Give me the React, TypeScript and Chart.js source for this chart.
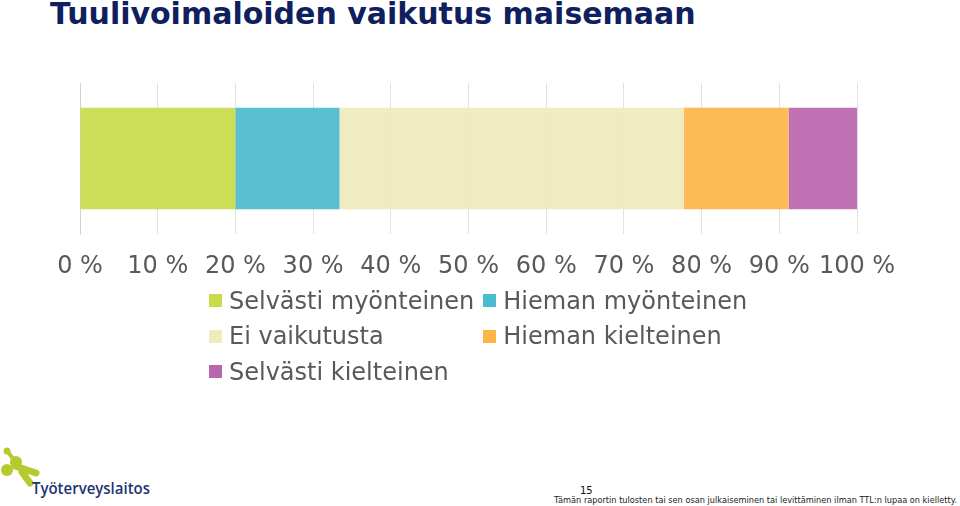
import React, { useEffect, useRef } from "react";
import { Chart, registerables } from "chart.js";

Chart.register(...registerables);

const TITLE = "Tuulivoimaloiden vaikutus maisemaan";
const CATEGORIES = [""];
const SERIES_LABELS = [
  "Selvästi myönteinen",
  "Hieman myönteinen",
  "Ei vaikutusta",
  "Hieman kielteinen",
  "Selvästi kielteinen",
];
const SERIES_VALUES = [20.0, 13.4, 44.3, 13.5, 8.8];
const SERIES_COLORS = ["#c8db4a", "#4bbbce", "#f0ebba", "#fdb54a", "#b967ad"];
const TICK_STEP = 10;
const FOOTER_PAGE = "15";
const FOOTER_TEXT =
  "Tämän raportin tulosten tai sen osan julkaiseminen tai levittäminen ilman TTL:n lupaa on kielletty.";
const LOGO_TEXT = "Työterveyslaitos";

function withAlpha(hex: string, a: number) {
  const r = parseInt(hex.slice(1, 3), 16);
  const g = parseInt(hex.slice(3, 5), 16);
  const b = parseInt(hex.slice(5, 7), 16);
  return `rgba(${r},${g},${b},${a})`;
}

export default function App() {
  const canvasRef = useRef<HTMLCanvasElement | null>(null);

  useEffect(() => {
    if (!canvasRef.current) return;
    const chart = new Chart(canvasRef.current, {
      type: "bar",
      data: {
        labels: CATEGORIES,
        datasets: SERIES_LABELS.map((label, i) => ({
          label,
          data: [SERIES_VALUES[i]],
          backgroundColor: withAlpha(SERIES_COLORS[i], 0.93),
          borderWidth: 0,
          barPercentage: 1,
          categoryPercentage: 0.671,
        })),
      },
      options: {
        indexAxis: "y",
        animation: false,
        responsive: false,
        maintainAspectRatio: false,
        layout: { padding: { left: 80, right: 103, top: 13, bottom: 11 } },
        plugins: {
          legend: { display: false },
          tooltip: { enabled: false },
          title: { display: false },
        },
        scales: {
          x: {
            stacked: true,
            min: 0,
            max: 100,
            ticks: {
              stepSize: TICK_STEP,
              callback: (v: any) => `${v} %`,
              font: { family: "'DejaVu Sans'", size: 24 },
              color: "#595959",
              padding: 18,
              maxRotation: 0,
              autoSkip: false,
            },
            grid: { color: "#e2e2e2", lineWidth: 1, drawTicks: false },
            border: { display: false },
          },
          y: {
            stacked: true,
            ticks: { display: false },
            grid: { display: true, color: "rgba(0,0,0,0)", drawTicks: false },
            border: { display: true, color: "#d2d2d2", width: 1 },
          },
        },
      },
    });
    return () => chart.destroy();
  }, []);

  return (
    <div
      style={{
        position: "fixed",
        left: 0,
        top: 0,
        width: 960,
        height: 506,
        background: "#ffffff",
        overflow: "hidden",
      }}
    >
      <div
        style={{
          position: "absolute",
          left: 50,
          top: -1,
          fontFamily: "'DejaVu Sans', sans-serif",
          fontWeight: "bold",
          fontSize: 30,
          lineHeight: "30px",
          color: "#0f205e",
          whiteSpace: "nowrap",
        }}
      >
        {TITLE}
      </div>
      <canvas
        ref={canvasRef}
        width={960}
        height={240}
        style={{ position: "absolute", left: 0, top: 70, width: 960, height: 240 }}
      />
      <div
        style={{
          position: "absolute",
          left: 209,
          top: 283,
          display: "grid",
          gridTemplateColumns: "auto auto",
          columnGap: 9,
          fontFamily: "'DejaVu Sans', sans-serif",
          fontSize: 24,
          color: "#595959",
        }}
      >
        {SERIES_LABELS.map((label, i) => (
          <div
            key={label}
            style={{ display: "flex", alignItems: "center", height: 35.5, whiteSpace: "nowrap" }}
          >
            <span
              style={{
                display: "inline-block",
                width: 13,
                height: 13,
                background: SERIES_COLORS[i],
                marginRight: 7,
              }}
            />
            <span>{label}</span>
          </div>
        ))}
      </div>
      <svg
        width={960}
        height={70}
        style={{ position: "absolute", left: 0, top: 436 }}
        viewBox="0 436 960 70"
      >
        <g stroke="#b6ca2e" strokeLinecap="round" fill="none">
          <line x1={8} y1={452} x2={14} y2={460} strokeWidth={4} />
          <line x1={15} y1={466} x2={36} y2={473} strokeWidth={7} />
          <line x1={22} y1={472} x2={30} y2={483} strokeWidth={7} />
        </g>
        <circle cx={7} cy={451} r={3.5} fill="#b6ca2e" />
        <circle cx={16} cy={462} r={6} fill="#b6ca2e" />
        <circle cx={7} cy={470} r={6} fill="#b6ca2e" />
        <text
          x={32}
          y={494}
          fontFamily="'Open Sans', sans-serif"
          fontWeight={600}
          fontSize={16}
          fill="#1d3570"
          textLength={118}
          lengthAdjust="spacingAndGlyphs"
        >
          {LOGO_TEXT}
        </text>
        <text x={580} y={494} fontFamily="'DejaVu Sans', sans-serif" fontSize={10} fill="#111">
          {FOOTER_PAGE}
        </text>
        <text
          x={554}
          y={503}
          fontFamily="'DejaVu Sans', sans-serif"
          fontSize={9.5}
          fill="#222"
          textLength={403}
          lengthAdjust="spacingAndGlyphs"
        >
          {FOOTER_TEXT}
        </text>
      </svg>
    </div>
  );
}
